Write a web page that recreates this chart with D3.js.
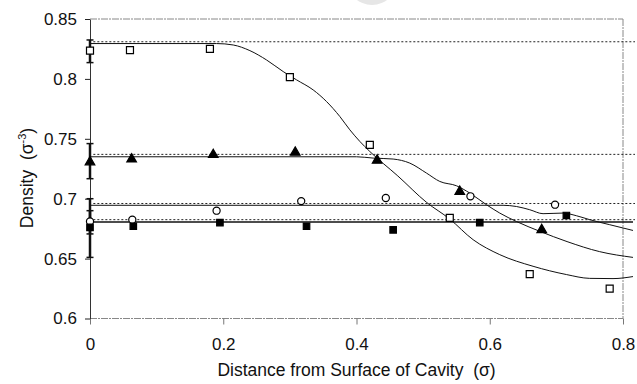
<!DOCTYPE html>
<html>
<head>
<meta charset="utf-8">
<script src="https://cdn.jsdelivr.net/npm/d3@7"></script>
<style>
body { margin: 0; background: #fff; }
svg { font-family: "Liberation Sans", Arial, sans-serif; }
</style>
</head>
<body>
<div id="chart"></div>
<script>
// measured points
let openSqX = [0, 0.06, 0.18, 0.30, 0.42, 0.54, 0.66, 0.78];
let openSqY = [0.8236, 0.824, 0.825, 0.8014, 0.745, 0.684, 0.637, 0.625];
let triX = [0, 0.0625, 0.185, 0.308, 0.431, 0.555, 0.678];
let triY = [0.7306, 0.733, 0.7367, 0.7386, 0.732, 0.706, 0.674];
let circX = [0, 0.0635, 0.19, 0.317, 0.444, 0.571, 0.698];
let circY = [0.681, 0.6825, 0.690, 0.698, 0.7006, 0.702, 0.695];
let fillSqX = [0, 0.065, 0.195, 0.325, 0.455, 0.585, 0.715];
let fillSqY = [0.676, 0.677, 0.680, 0.677, 0.674, 0.680, 0.686];

// error bars at the surface (x = 0)
let errLow = [0.8136, 0.7167, 0.6706, 0.651];
let errHigh = [0.8325, 0.746, 0.690, 0.700];

// fitted curves
let openSqFitX = [0, 0.19, 0.215, 0.24, 0.265, 0.29, 0.31, 0.335, 0.355, 0.375, 0.39, 0.405, 0.42, 0.462, 0.505, 0.54, 0.575, 0.615, 0.665, 0.715, 0.75, 0.785, 0.815];
let openSqFitY = [0.8295, 0.8295, 0.8283, 0.8236, 0.8158, 0.8061, 0.7992, 0.7908, 0.7811, 0.7686, 0.7575, 0.7478, 0.7394, 0.719, 0.697, 0.683, 0.6658, 0.6533, 0.6436, 0.6367, 0.6335, 0.6333, 0.635];
let triFitX = [0, 0.40, 0.425, 0.455, 0.48, 0.505, 0.525, 0.55, 0.57, 0.595, 0.615, 0.64, 0.675, 0.716, 0.765, 0.815];
let triFitY = [0.735, 0.735, 0.7339, 0.7331, 0.7297, 0.7214, 0.7144, 0.7108, 0.7047, 0.695, 0.688, 0.681, 0.6728, 0.6642, 0.6558, 0.651];
let circFitX = [0, 0.62, 0.64, 0.66, 0.68, 0.71, 0.73, 0.75, 0.78, 0.815];
let circFitY = [0.6945, 0.6945, 0.6935, 0.6908, 0.6875, 0.688, 0.6858, 0.6825, 0.6783, 0.6735];
let fillSqFitX = [0, 0.815];
let fillSqFitY = [0.6805, 0.6805];

// dotted bulk-density levels
let bulkLevels = [0.831, 0.737, 0.696, 0.6825];

let xTicks = [0, 0.2, 0.4, 0.6, 0.8];
let yTicks = [0.6, 0.65, 0.7, 0.75, 0.8, 0.85];

let margin = {top: 19, right: 14, bottom: 65.5, left: 90};
let elWidth = 637;
let elHeight = 384;
let width = elWidth - margin.left - margin.right;
let height = elHeight - margin.top - margin.bottom;

let svg = d3.select('#chart').append('svg')
    .attr('width', elWidth)
    .attr('height', elHeight);

// faint scan blot at the top
svg.append('circle')
    .attr('cx', 372).attr('cy', -20).attr('r', 25)
    .attr('fill', '#e6e6e6');

let g = svg.append('g').attr('transform', 'translate(' + margin.left + ',' + margin.top + ')');

let x = d3.scaleLinear().domain([0, 0.8]).range([0, width]);
let y = d3.scaleLinear().domain([0.6, 0.85]).range([height, 0]);

// frame (top, right, bottom) in grey dashes
let frame = [
    [[0, 0.85], [0.8, 0.85]],
    [[0.8, 0.85], [0.8, 0.6]],
    [[0, 0.6], [0.8, 0.6]]
];
frame.forEach(function(seg) {
    g.append('line')
        .attr('x1', x(seg[0][0])).attr('y1', y(seg[0][1]))
        .attr('x2', x(seg[1][0])).attr('y2', y(seg[1][1]))
        .attr('stroke', '#888')
        .attr('stroke-width', 1)
        .attr('stroke-dasharray', '7,1,2,1');
});

let xAxis = g.append('g')
    .attr('transform', 'translate(0,' + height + ')')
    .call(d3.axisBottom(x).tickValues(xTicks).tickFormat(d3.format('')).tickSize(6).tickPadding(13));
xAxis.select('.domain').remove();
xAxis.selectAll('.tick line').attr('stroke', '#777');
xAxis.selectAll('text').attr('font-size', 17).attr('fill', '#111');

let yAxis = g.append('g')
    .call(d3.axisLeft(y).tickValues(yTicks).tickFormat(d3.format('')).tickSize(5).tickSizeOuter(0).tickPadding(8));
yAxis.select('.domain').attr('stroke', '#333');
yAxis.selectAll('.tick line').attr('stroke', '#222');
yAxis.selectAll('text').attr('font-size', 17).attr('fill', '#111');

// dotted bulk levels
g.selectAll('.bulk')
    .data(bulkLevels)
    .enter().append('line')
    .attr('class', 'bulk')
    .attr('x1', x(0.005)).attr('x2', x(0.818))
    .attr('y1', function(d) { return y(d); })
    .attr('y2', function(d) { return y(d); })
    .attr('stroke', '#222')
    .attr('stroke-width', 1)
    .attr('stroke-dasharray', '2,2');

let line = d3.line()
    .x(function(d) { return x(d[0]); })
    .y(function(d) { return y(d[1]); })
    .curve(d3.curveMonotoneX);

let fits = [
    [openSqFitX, openSqFitY, 1],
    [triFitX, triFitY, 1],
    [circFitX, circFitY, 1],
    [fillSqFitX, fillSqFitY, 1.4]
];
fits.forEach(function(f) {
    g.append('path')
        .datum(d3.zip(f[0], f[1]))
        .attr('fill', 'none')
        .attr('stroke', '#111')
        .attr('stroke-width', f[2])
        .attr('d', line);
});

// error bars
let errs = d3.zip(errLow, errHigh);
g.selectAll('.err')
    .data(errs)
    .enter().append('line')
    .attr('class', 'err')
    .attr('x1', x(0)).attr('x2', x(0))
    .attr('y1', function(d) { return y(d[0]); })
    .attr('y2', function(d) { return y(d[1]); })
    .attr('stroke', '#111')
    .attr('stroke-width', 2.5);
errs.forEach(function(d) {
    d.forEach(function(v) {
        g.append('line')
            .attr('x1', x(0) - 3.5).attr('x2', x(0) + 3.5)
            .attr('y1', y(v)).attr('y2', y(v))
            .attr('stroke', '#111')
            .attr('stroke-width', 1.5);
    });
});

function drawMarkers(xs, ys, type, size, filled) {
    g.selectAll(null)
        .data(d3.zip(xs, ys))
        .enter().append('path')
        .attr('transform', function(d) { return 'translate(' + x(d[0]) + ',' + y(d[1]) + ')'; })
        .attr('d', d3.symbol().type(type).size(size))
        .attr('fill', filled ? '#000' : '#fff')
        .attr('stroke', '#000')
        .attr('stroke-width', 1.2);
}

drawMarkers(openSqX, openSqY, d3.symbolSquare, 49, false);
drawMarkers(triX, triY, d3.symbolTriangle, 40, true);
drawMarkers(circX, circY, d3.symbolCircle, 40, false);
drawMarkers(fillSqX, fillSqY, d3.symbolSquare, 42, true);

// axis titles
svg.append('text')
    .attr('x', margin.left + width / 2)
    .attr('y', 376)
    .attr('text-anchor', 'middle')
    .attr('font-size', 17.5)
    .attr('fill', '#111')
    .text('Distance from Surface of Cavity\u00a0\u00a0(\u03c3)');

let yt = svg.append('text')
    .attr('transform', 'translate(33,178) rotate(-90)')
    .attr('text-anchor', 'middle')
    .attr('font-size', 17.5)
    .attr('fill', '#111');
yt.append('tspan').text('Density\u00a0\u00a0(\u03c3');
yt.append('tspan').attr('dy', -7).attr('font-size', 11).text('-3');
yt.append('tspan').attr('dy', 7).text(')');
</script>
</body>
</html>
